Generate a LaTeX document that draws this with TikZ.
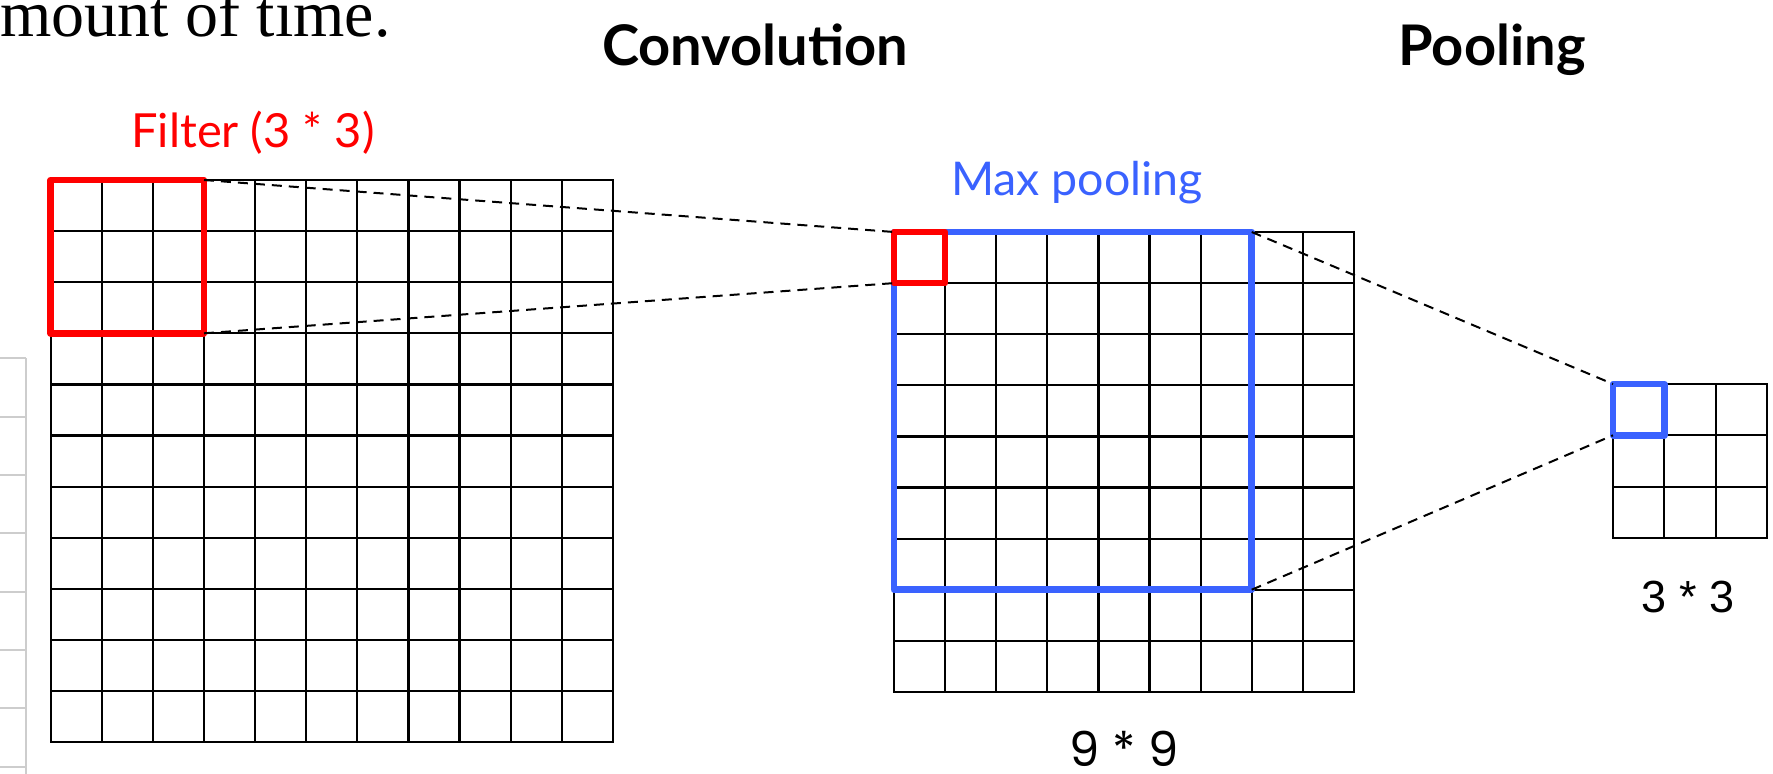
\documentclass[tikz,border=0pt]{standalone}
\usepackage{fontspec}
\setmainfont{Lato}
\newfontfamily\serifface{Liberation Serif}
\newfontfamily\arialface{Liberation Sans}
\newfontfamily\geoface{Poppins}
\definecolor{myred}{RGB}{255,0,0}
\definecolor{myblue}{RGB}{58,98,255}
\definecolor{faintgrey}{RGB}{205,205,205}
\tikzset{
  gridline/.style={line width=2.2pt, black, line cap=rect},
  redbox/.style={line width=6.5pt, myred, line join=round},
  bluebox/.style={line width=6.5pt, myblue, line join=round},
  connector/.style={line width=2pt, black, dash pattern=on 10pt off 7pt},
  faint/.style={line width=2pt, faintgrey},
  lbl/.style={inner sep=0pt, anchor=base},
}
\begin{document}
\begin{tikzpicture}[x=1pt,y=-1pt]
\useasboundingbox (0,0) rectangle (1773,774);
% faint partial grid at the far left
\draw[faint] (26,358) -- (26,774);
\foreach \yy in {358,417,475,533,592,650,708,767}
  \draw[faint] (0,\yy) -- (26,\yy);
% cut text
\node[inner sep=0pt, anchor=base west] (cut) at (0,36)
  {\serifface\fontsize{66}{66}\selectfont mount of time.};
% titles
\node[lbl] (conv) at (755,65) {\fontsize{56}{56}\selectfont\bfseries Convolution};
\node[lbl] (pool) at (1492,65) {\fontsize{56}{56}\selectfont\bfseries Pooling};
% left 11x11 grid
\begin{scope}[shift={(50.7,180)}]
  \foreach \i in {0,...,11} {
    \draw[gridline] (\i*51.1,0) -- (\i*51.1,562.1);
    \draw[gridline] (0,\i*51.1) -- (562.1,\i*51.1);
  }
  \draw[redbox] (0,0) rectangle (153.3,153.3);
  \coordinate (filterTR) at (153.3,0);
  \coordinate (filterBR) at (153.3,153.3);
\end{scope}
\node[lbl, text=myred] (filterlbl) at (253,147) {\fontsize{47}{47}\selectfont Filter (3 * 3)};
% middle 9x9 grid
\begin{scope}[shift={(894,232)}]
  \foreach \i in {0,...,9} {
    \draw[gridline] (\i*51.1,0) -- (\i*51.1,459.9);
    \draw[gridline] (0,\i*51.1) -- (459.9,\i*51.1);
  }
  \draw[bluebox] (0,0) rectangle (357.7,357.7);
  \draw[redbox] (0,0) rectangle (51.1,51.1);
  \coordinate (redTL) at (0,0);
  \coordinate (redBL) at (0,51.1);
  \coordinate (blueTR) at (357.7,0);
  \coordinate (blueBR) at (357.7,357.7);
\end{scope}
\node[lbl, text=myblue] (maxlbl) at (1077,195) {\fontsize{46.5}{46.5}\selectfont Max pooling};
\node[lbl] (ninelbl) at (1124,766) {\geoface\fontsize{48}{48}\selectfont 9 * 9};
% right 3x3 grid
\begin{scope}[shift={(1613,384)}]
  \foreach \i in {0,...,3} {
    \draw[gridline] (\i*51.3,0) -- (\i*51.3,153.9);
    \draw[gridline] (0,\i*51.3) -- (153.9,\i*51.3);
  }
  \draw[bluebox] (0,0) rectangle (51.3,51.3);
  \coordinate (smallTL) at (0,0);
  \coordinate (smallBL) at (0,51.3);
\end{scope}
\node[lbl] (threelbl) at (1688,612) {\arialface\fontsize{45}{45}\selectfont 3 * 3};
% dashed connectors
\draw[connector] (filterTR) -- (redTL);
\draw[connector] (filterBR) -- (redBL);
\draw[connector] (blueTR) -- (smallTL);
\draw[connector] (blueBR) -- (smallBL);
\end{tikzpicture}
\end{document}
